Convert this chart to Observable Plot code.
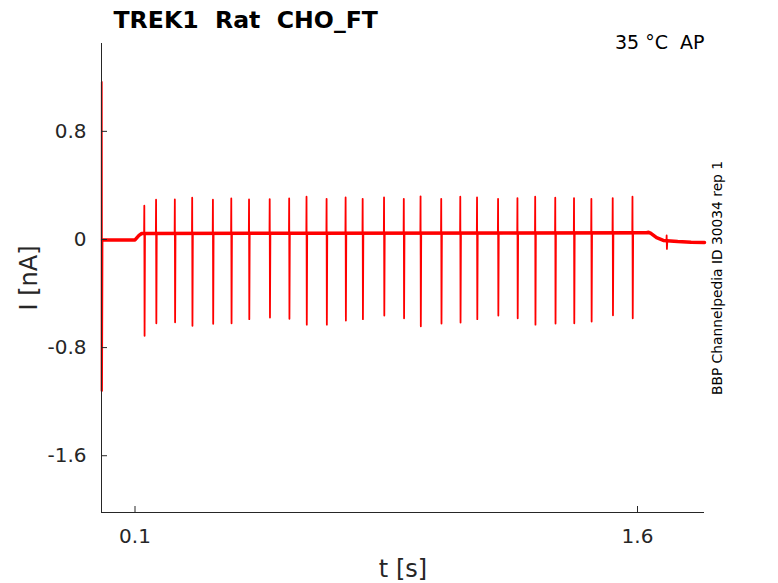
<!DOCTYPE html>
<html><head><meta charset="utf-8">
<script src="https://cdn.jsdelivr.net/npm/d3@7"></script>
<script src="https://cdn.jsdelivr.net/npm/@observablehq/plot@0.6"></script>
<style>
html,body{margin:0;padding:0;background:#fff;}
svg text{white-space:pre;}
</style></head><body><div id="chart"></div>
<script>
// ---- text ----
const titleText = "TREK1  Rat  CHO_FT";
const condText = "35 °C  AP";
const sideText = "BBP Channelpedia ID 30034 rep 1";
const xLabel = "t [s]";
const yLabel = "I [nA]";

// ---- axes ----
const xTicks = [0.1, 1.6];
const yTicks = [0.8, 0, -0.8, -1.6];
const xDomain = [0, 1.8];
const yDomain = [-2.02, 1.45];

// ---- trace: capacitive artifact at start ----
const artifactT = [0.0, 0.0008, 0.0016, 0.003];
const artifactI = [-1.12, 1.165, -1.12, -0.003];

// ---- trace: baseline key points ----
const baseT = [0.003, 0.100, 0.112, 0.120, 0.60, 1.20, 1.600, 1.627, 1.633, 1.640, 1.657, 1.677, 1.720, 1.760, 1.800];
const baseI = [-0.003, -0.003, 0.030, 0.044, 0.046, 0.048, 0.050, 0.050, 0.054, 0.045, 0.013, -0.007, -0.015, -0.020, -0.022];
const plateauI = 0.046;

// ---- trace: action-potential current spikes ----
const spikeT = [0.1278, 0.1629, 0.2189, 0.2707, 0.3326, 0.3874, 0.4404, 0.5021, 0.5602, 0.6120,
                0.6719, 0.7287, 0.7796, 0.8434, 0.9024, 0.9524, 1.0141, 1.0710, 1.1210, 1.1838,
                1.2416, 1.2946, 1.3545, 1.4105, 1.4623, 1.5260, 1.5850];
const spikePeak = [0.250, 0.294, 0.296, 0.309, 0.294, 0.304, 0.296, 0.299, 0.304, 0.316,
                   0.301, 0.311, 0.301, 0.311, 0.301, 0.319, 0.301, 0.316, 0.311, 0.301,
                   0.306, 0.316, 0.309, 0.306, 0.301, 0.306, 0.316];
const spikeTrough = [-0.713, -0.620, -0.613, -0.639, -0.624, -0.620, -0.590, -0.578, -0.587, -0.630,
                     -0.630, -0.600, -0.590, -0.563, -0.583, -0.642, -0.622, -0.615, -0.590, -0.563,
                     -0.583, -0.630, -0.622, -0.620, -0.607, -0.561, -0.583];

// ---- small blip after the train ----
const blipT = [1.687];
const blipPeak = [0.030];
const blipTrough = [-0.070];
const blipBase = [-0.010];

// ---- build tables ----
const baseline = baseT.map((t, i) => ({t, i: baseI[i]}));
const trace = [];
artifactT.forEach((t, k) => trace.push({t, i: artifactI[k]}));
baseline.forEach(d => trace.push(d));
spikeT.forEach((t, k) => {
  trace.push({t: t - 0.0006, i: plateauI});
  trace.push({t, i: spikePeak[k]});
  trace.push({t: t + 0.0008, i: spikeTrough[k]});
  trace.push({t: t + 0.002, i: plateauI});
});
blipT.forEach((t, k) => {
  trace.push({t: t - 0.0006, i: blipBase[k]});
  trace.push({t, i: blipPeak[k]});
  trace.push({t: t + 0.0008, i: blipTrough[k]});
  trace.push({t: t + 0.002, i: blipBase[k]});
});
trace.sort((a, b) => a.t - b.t);

const ink = "#262626";
const font = "DejaVu Sans";
const W = 778, H = 583, mL = 101, mR = 74, mT = 43, mB = 71;
const tickLen = 6;

const chart = Plot.plot({
  width: W, height: H,
  marginLeft: mL, marginRight: mR, marginTop: mT, marginBottom: mB,
  x: {domain: xDomain},
  y: {domain: yDomain},
  style: {fontFamily: font, color: ink, background: "white", overflow: "visible"},
  marks: [
    Plot.line(baseline, {x: "t", y: "i", stroke: "#ff0000", strokeWidth: 3.5}),
    Plot.line(trace, {x: "t", y: "i", stroke: "#ff0000", strokeWidth: 1.8}),
    Plot.axisX({ticks: xTicks, tickSize: 0, tickPadding: 16, fontSize: 20, fill: ink, label: null, tickFormat: d => String(d)}),
    Plot.axisY({ticks: yTicks, tickSize: 0, tickPadding: 15, fontSize: 20, fill: ink, label: null, tickFormat: d => String(d)}),
    Plot.tickX(xTicks, {x: d => d, stroke: ink, strokeWidth: 1, insetTop: H - mT - mB - tickLen}),
    Plot.tickY(yTicks, {y: d => d, stroke: ink, strokeWidth: 1, insetRight: W - mL - mR - tickLen}),
    Plot.ruleX([xDomain[0]], {stroke: ink, strokeWidth: 1}),
    Plot.ruleY([yDomain[0]], {stroke: ink, strokeWidth: 1}),
    Plot.text([titleText], {frameAnchor: "top-left", dx: 12, dy: -16, textAnchor: "start", lineAnchor: "bottom", fontSize: 23.6, fontWeight: "bold", fill: "#000"}),
    Plot.text([condText], {frameAnchor: "top-right", dx: 0, dy: 5, textAnchor: "end", lineAnchor: "bottom", fontSize: 19, fill: "#000"}),
    Plot.text([sideText], {frameAnchor: "right", dx: 17, rotate: -90, textAnchor: "middle", lineAnchor: "bottom", fontSize: 13.8, fill: "#000"}),
    Plot.text([yLabel], {frameAnchor: "left", dx: -65, rotate: -90, textAnchor: "middle", lineAnchor: "bottom", fontSize: 24, fill: ink}),
    Plot.text([xLabel], {frameAnchor: "bottom", dy: 64, textAnchor: "middle", lineAnchor: "bottom", fontSize: 24, fill: ink})
  ]
});
document.getElementById("chart").appendChild(chart);
</script></body></html>
